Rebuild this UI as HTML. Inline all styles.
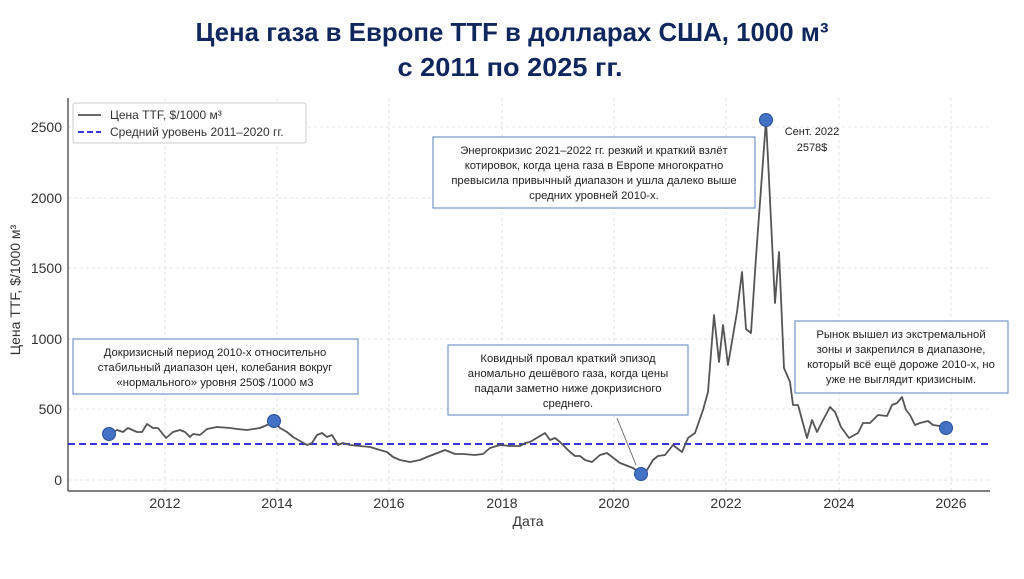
<!DOCTYPE html>
<html><head><meta charset="utf-8"><style>
body{margin:0;background:#fff;width:1024px;height:574px;overflow:hidden;font-family:"Liberation Sans","DejaVu Sans",sans-serif}
</style></head><body>
<svg width="1024" height="574" xmlns="http://www.w3.org/2000/svg" font-family="Liberation Sans, DejaVu Sans, sans-serif">
<text x="512" y="41" text-anchor="middle" font-size="26" font-weight="bold" fill="#10275e" textLength="633" lengthAdjust="spacingAndGlyphs">Цена газа в Европе TTF в долларах США, 1000 м³</text>
<text x="510" y="76" text-anchor="middle" font-size="26" font-weight="bold" fill="#10275e" textLength="225" lengthAdjust="spacingAndGlyphs">с 2011 по 2025 гг.</text>
<g stroke="#d8d8d8" stroke-dasharray="3,3" stroke-width="0.8">
<line x1="165" y1="98" x2="165" y2="491"/><line x1="277" y1="98" x2="277" y2="491"/><line x1="389" y1="98" x2="389" y2="491"/><line x1="502" y1="98" x2="502" y2="491"/><line x1="614" y1="98" x2="614" y2="491"/><line x1="726" y1="98" x2="726" y2="491"/><line x1="839" y1="98" x2="839" y2="491"/><line x1="951" y1="98" x2="951" y2="491"/>
<line x1="68" y1="480" x2="990" y2="480"/><line x1="68" y1="409" x2="990" y2="409"/><line x1="68" y1="339" x2="990" y2="339"/><line x1="68" y1="268" x2="990" y2="268"/><line x1="68" y1="198" x2="990" y2="198"/><line x1="68" y1="127" x2="990" y2="127"/>
</g>
<line x1="68" y1="98" x2="68" y2="491" stroke="#333" stroke-width="1.2"/>
<line x1="68" y1="491" x2="990" y2="491" stroke="#333" stroke-width="1.2"/>
<g font-size="14" fill="#333" text-anchor="end">
<text x="62" y="485">0</text><text x="62" y="414">500</text><text x="62" y="344">1000</text><text x="62" y="273">1500</text><text x="62" y="203">2000</text><text x="62" y="132">2500</text>
</g>
<g font-size="14" fill="#333" text-anchor="middle">
<text x="165" y="508">2012</text><text x="277" y="508">2014</text><text x="389" y="508">2016</text><text x="502" y="508">2018</text><text x="614" y="508">2020</text><text x="726" y="508">2022</text><text x="839" y="508">2024</text><text x="951" y="508">2026</text>
<text x="528" y="526">Дата</text>
</g>
<text transform="translate(20,290) rotate(-90)" font-size="14" fill="#333" text-anchor="middle">Цена TTF, $/1000 м³</text>
<line x1="68" y1="444" x2="990" y2="444" stroke="#1a1ad6" stroke-width="1.8" stroke-dasharray="7,4"/>
<polyline fill="none" stroke="#555" stroke-width="1.8" stroke-linejoin="round" points="109,434 117,430 123,432 128,428 137,432 142,432 147,424 153,428 158,428 166,438 173,432 180,430 185,432 190,437 193,434 200,435 207,429 217,427 230,428 237,429 247,430 260,428 267,425 274,421 280,428 287,432 293,437 307,445 312,443 317,435 322,433 327,437 332,435 338,445 343,443 350,445 360,446 370,447 380,450 387,452 393,457 400,460 410,462 420,460 427,457 440,452 445,450 455,454 463,454 475,455 483,454 490,448 500,445 510,446 520,446 525,443 530,442 540,436 545,433 550,440 555,438 560,442 570,452 575,456 580,456 585,460 592,462 600,455 607,453 620,463 633,468 641,474 647,470 653,460 658,456 665,455 673,445 682,452 688,438 695,433 703,410 708,392 714,315 719,362 723,325 728,365 737,312 742,272 746,329 751,333 756,257 766,120 768,159 775,303 779,252 784,368 790,382 793,405 798,405 807,438 812,420 817,432 822,422 830,407 835,412 841,427 849,438 858,433 863,423 870,423 878,415 887,416 892,405 897,403 902,397 906,410 910,415 915,425 920,423 928,421 933,425 940,426 946,428"/>
<g fill="#4472c4" stroke="#2a4f9a" stroke-width="1">
<circle cx="109" cy="434" r="6.5"/><circle cx="274" cy="421" r="6.5"/><circle cx="641" cy="474" r="6.5"/><circle cx="766" cy="120" r="6.5"/><circle cx="946" cy="428" r="6.5"/>
</g>
<rect x="73" y="103" width="233" height="40" fill="#fff" stroke="#ccc" rx="2"/>
<line x1="78" y1="115" x2="101" y2="115" stroke="#555" stroke-width="1.8"/>
<line x1="78" y1="132" x2="101" y2="132" stroke="#1a1ad6" stroke-width="1.8" stroke-dasharray="6,3"/>
<text x="110" y="119" font-size="12" fill="#333">Цена TTF, $/1000 м³</text>
<text x="110" y="136" font-size="12" fill="#333">Средний уровень 2011–2020 гг.</text>
<text x="812" y="135" font-size="11" fill="#222" text-anchor="middle">Сент. 2022</text>
<text x="812" y="151" font-size="11" fill="#222" text-anchor="middle">2578$</text>
<line x1="617" y1="418" x2="636" y2="465" stroke="#555" stroke-width="0.8"/>
<g font-size="11.3" fill="#222" text-anchor="middle">
<rect x="73" y="339" width="285" height="55" fill="#fff" stroke="#5b7fbf"/>
<text x="215" y="356">Докризисный период 2010-х относительно</text>
<text x="215" y="371">стабильный диапазон цен, колебания вокруг</text>
<text x="215" y="386">«нормального» уровня 250$ /1000 м3</text>
<rect x="433" y="137" width="322" height="71" fill="#fff" stroke="#5b7fbf"/>
<text x="594" y="154">Энергокризис 2021–2022 гг. резкий и краткий взлёт</text>
<text x="594" y="169">котировок, когда цена газа в Европе многократно</text>
<text x="594" y="184">превысила привычный диапазон и ушла далеко выше</text>
<text x="594" y="199">средних уровней 2010-х.</text>
<rect x="448" y="345" width="240" height="70" fill="#fff" stroke="#5b7fbf"/>
<text x="568" y="362">Ковидный провал краткий эпизод</text>
<text x="568" y="377">аномально дешёвого газа, когда цены</text>
<text x="568" y="392">падали заметно ниже докризисного</text>
<text x="568" y="407">среднего.</text>
<rect x="795" y="321" width="213" height="72" fill="#fff" stroke="#5b7fbf"/>
<text x="901" y="338">Рынок вышел из экстремальной</text>
<text x="901" y="353">зоны и закрепился в диапазоне,</text>
<text x="901" y="368">который всё ещё дороже 2010-х, но</text>
<text x="901" y="383">уже не выглядит кризисным.</text>
</g>
</svg>
</body></html>
